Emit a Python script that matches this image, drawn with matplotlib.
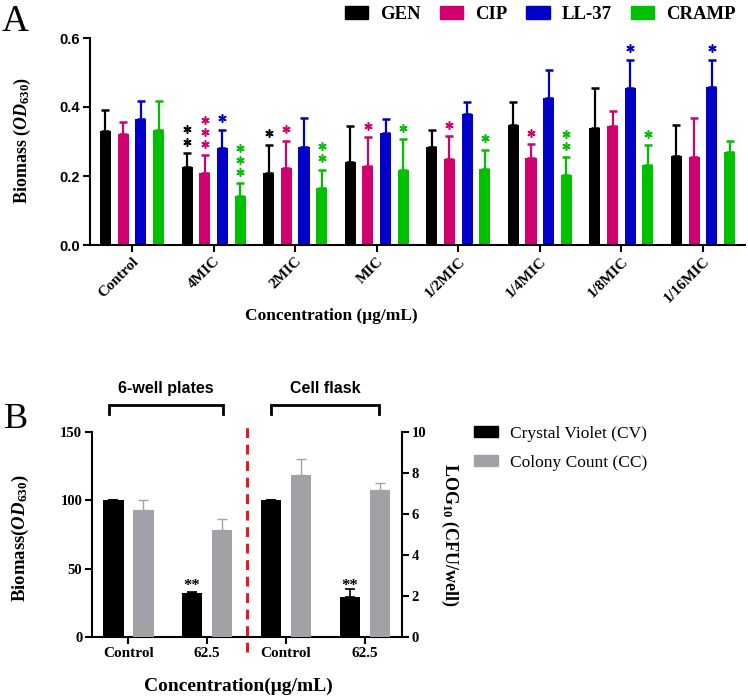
import numpy as np
import matplotlib
matplotlib.use("Agg")
import matplotlib.pyplot as plt
from matplotlib.patches import Patch

plt.rcParams['font.family'] = ['Liberation Serif', 'DejaVu Serif']
plt.rcParams['mathtext.fontset'] = 'custom'
plt.rcParams['mathtext.rm'] = 'Liberation Serif:bold'
plt.rcParams['mathtext.it'] = 'Liberation Serif:italic:bold'
plt.rcParams['mathtext.bf'] = 'Liberation Serif:bold'

# ---------------- Panel A data ----------------
categories_A = ['Control', '4MIC', '2MIC', 'MIC', '1/2MIC', '1/4MIC', '1/8MIC', '1/16MIC']
series_A = ['GEN', 'CIP', 'LL-37', 'CRAMP']
colors_A = ['#000000', '#D0006F', '#0000C8', '#00C000']

gen_vals = [0.331, 0.225, 0.210, 0.242, 0.283, 0.347, 0.339, 0.257]
gen_err = [0.061, 0.042, 0.081, 0.103, 0.051, 0.067, 0.116, 0.091]
cip_vals = [0.323, 0.208, 0.223, 0.230, 0.250, 0.253, 0.346, 0.255]
cip_err = [0.033, 0.052, 0.079, 0.082, 0.065, 0.039, 0.041, 0.114]
ll37_vals = [0.365, 0.280, 0.283, 0.326, 0.380, 0.425, 0.455, 0.457]
ll37_err = [0.051, 0.054, 0.084, 0.040, 0.035, 0.083, 0.082, 0.080]
cramp_vals = [0.332, 0.143, 0.164, 0.217, 0.221, 0.202, 0.231, 0.270]
cramp_err = [0.084, 0.036, 0.054, 0.089, 0.055, 0.052, 0.058, 0.031]

gen_sig = [0, 2, 1, 0, 0, 0, 0, 0]
cip_sig = [0, 3, 1, 1, 1, 1, 0, 0]
ll37_sig = [0, 1, 0, 0, 0, 0, 1, 1]
cramp_sig = [0, 3, 2, 1, 1, 2, 1, 0]

yticks_A = [0.0, 0.2, 0.4, 0.6]

# ---------------- Panel B data ----------------
categories_B = ['Control', '62.5', 'Control', '62.5']
cv_vals = [100, 32.2, 100, 29.3]
cv_err = [0, 0.7, 0, 5.8]
cc_vals = [6.21, 5.23, 7.92, 7.15]
cc_err = [0.46, 0.52, 0.76, 0.36]
cv_sig = [0, 2, 0, 2]
series_B = ['Crystal Violet (CV)', 'Colony Count (CC)']
colors_B = ['#000000', '#A2A2A6']
group_names_B = ['6-well plates', 'Cell flask']

W, H = 748, 698
fig = plt.figure(figsize=(W / 100, H / 100), dpi=100)

def fx(px):
    return px / W

def fy(py):
    return 1 - py / H

# ================= Panel A =================
axA = fig.add_axes([fx(90), fy(245), fx(745) - fx(90), fy(38) - fy(245)])
x = np.arange(len(categories_A))
step = 0.217
width = 0.135
vals_all = [gen_vals, cip_vals, ll37_vals, cramp_vals]
errs_all = [gen_err, cip_err, ll37_err, cramp_err]
sigs_all = [gen_sig, cip_sig, ll37_sig, cramp_sig]
for i, (v, e, s, c, name) in enumerate(zip(vals_all, errs_all, sigs_all, colors_A, series_A)):
    xpos = x + (i - 1.5) * step
    axA.bar(xpos, v, width=width, color=c, label=name, zorder=2)
    axA.errorbar(xpos, v, yerr=[np.zeros(len(v)), e], fmt='none', ecolor=c,
                 elinewidth=1.6, capsize=3.2, capthick=1.8, zorder=3)
    for xp, vv, ee, n in zip(xpos, v, e, s):
        for k in range(n):
            axA.plot(xp, vv + ee + 0.033 + k * 0.035, linestyle='none',
                     marker=(6, 2, 0), ms=6, mew=1.1, color=c, clip_on=False, zorder=4)

axA.set_xlim(-0.515, len(categories_A) - 0.485)
axA.set_ylim(0, 0.6)
axA.set_yticks(yticks_A)
axA.set_yticklabels([f'{t:.1f}' for t in yticks_A], family='Liberation Sans',
                    fontweight='bold', fontsize=10.5)
axA.set_xticks(x)
axA.set_xticklabels(categories_A, rotation=45, ha='right', va='top',
                    rotation_mode='anchor', fontweight='bold', fontsize=11)
for sp in ['top', 'right']:
    axA.spines[sp].set_visible(False)
for sp in ['left', 'bottom']:
    axA.spines[sp].set_linewidth(1.5)
axA.tick_params(axis='both', direction='out', width=1.5, length=5, pad=2)

fig.text(fx(22), fy(140), r'Biomass ($OD_{630}$)', rotation=90, ha='center', va='center',
         fontweight='bold', fontsize=13)
fig.text(fx(331), fy(316), 'Concentration (μg/mL)', ha='center', va='center',
         fontweight='bold', fontsize=12.5)

handlesA = [Patch(facecolor=c, edgecolor=c) for c in colors_A]
fig.legend(handlesA, series_A, loc='upper right', bbox_to_anchor=(fx(736), fy(6)),
           ncol=4, frameon=False, prop={'family': 'Liberation Serif', 'weight': 'bold', 'size': 13.5},
           handlelength=1.25, handleheight=0.7, handletextpad=0.65, columnspacing=1.0,
           borderpad=0, borderaxespad=0)

fig.text(fx(2), fy(22), 'A', ha='left', va='center', fontsize=27)

# ================= Panel B =================
axB = fig.add_axes([fx(92), fy(637), fx(402) - fx(92), fy(432) - fy(637)])
axB2 = axB.twinx()
xb = np.arange(len(categories_B))
offB = 0.19
wB = 0.26
axB.bar(xb - offB, cv_vals, width=wB, color=colors_B[0], zorder=2)
axB.errorbar(xb - offB, cv_vals, yerr=[np.zeros(len(cv_vals)), cv_err], fmt='none',
             ecolor='#000000', elinewidth=1.2, capsize=3.5, capthick=1.2, zorder=3)
axB2.bar(xb + offB, cc_vals, width=wB, color=colors_B[1], zorder=2)
axB2.errorbar(xb + offB, cc_vals, yerr=[np.zeros(len(cc_vals)), cc_err], fmt='none',
              ecolor='#A2A2A6', elinewidth=1.0, capsize=3.5, capthick=1.0, zorder=3)
star_base = max(np.add(cv_vals, cv_err)[np.array(cv_sig) > 0])
for xp, n in zip(xb - offB, cv_sig):
    if n:
        axB.text(xp, star_base - 4, '*' * n, ha='center', va='bottom',
                 fontsize=12, fontweight='bold')

axB.set_xlim(-0.46, len(categories_B) - 0.53)
axB.set_ylim(0, 150)
axB2.set_ylim(0, 10)
axB.set_yticks([0, 50, 100, 150])
axB2.set_yticks([0, 2, 4, 6, 8, 10])
axB.set_xticks(xb)
axB.set_xticklabels(categories_B, fontweight='bold', fontsize=11)
for lab in axB.get_yticklabels() + axB2.get_yticklabels():
    lab.set_fontweight('bold')
    lab.set_fontsize(10.5)
for a in (axB, axB2):
    a.spines['top'].set_visible(False)
    for sp in ['left', 'right', 'bottom']:
        a.spines[sp].set_linewidth(1.5)
axB.spines['right'].set_visible(False)
axB2.spines['left'].set_visible(False)
axB2.spines['bottom'].set_visible(False)
axB.tick_params(axis='both', direction='out', width=1.5, length=5, pad=2)
axB2.tick_params(axis='y', direction='out', width=1.5, length=5, pad=2)

# red dashed separator between the two experiments
axB.plot([1.5, 1.5], [-11, 156.5], color='#E8191E', lw=2.2, ls=(0, (3.2, 2.2)),
         clip_on=False, zorder=5)

# brackets
brackets = [(-0.24, 1.2), (1.81, 3.18)]
for (x0, x1), name in zip(brackets, group_names_B):
    axB.plot([x0, x0, x1, x1], [163, 169.7, 169.7, 163], color='black', lw=2,
             clip_on=False, solid_joinstyle='miter')
    axB.text((x0 + x1) / 2, 182, name, ha='center', va='center', family='Liberation Sans',
             fontweight='bold', fontsize=11.5)

fig.text(fx(20), fy(538), r'Biomass($OD_{630}$)', rotation=90, ha='center', va='center',
         fontweight='bold', fontsize=13.5)
fig.text(fx(450), fy(535), r'LOG$_{10}$ (CFU/well)', rotation=270, ha='center', va='center',
         fontweight='bold', fontsize=13)
fig.text(fx(238), fy(686), 'Concentration(μg/mL)', ha='center', va='center',
         fontweight='bold', fontsize=14)

handlesB = [Patch(facecolor=c, edgecolor=c) for c in colors_B]
fig.legend(handlesB, series_B, loc='upper left', bbox_to_anchor=(fx(474), fy(426)),
           frameon=False, prop={'family': 'Liberation Serif', 'size': 12.5},
           handlelength=1.4, handleheight=0.6, handletextpad=0.7, labelspacing=0.75,
           borderpad=0, borderaxespad=0)

fig.text(fx(4), fy(420), 'B', ha='left', va='center', fontsize=26)

fig.savefig('out.png', dpi=100)
